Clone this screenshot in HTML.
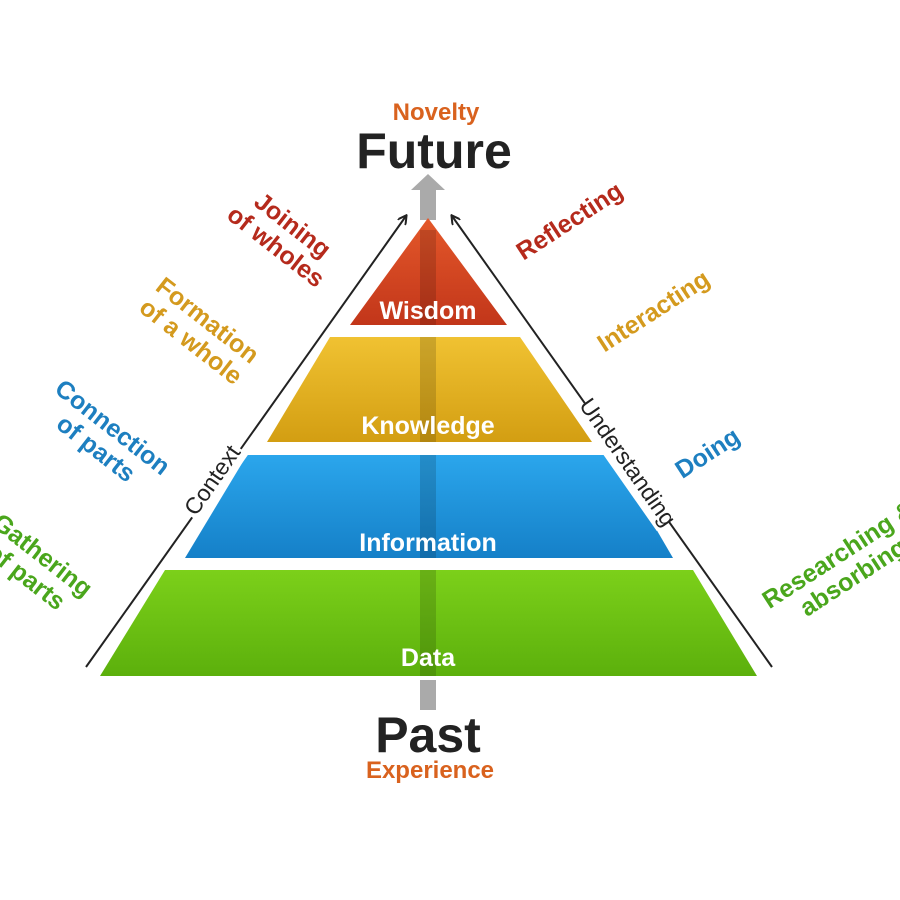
<!DOCTYPE html>
<html><head><meta charset="utf-8"><style>
html,body{margin:0;padding:0;background:#fff;}
svg{display:block;}
text{font-family:"Liberation Sans",sans-serif;font-weight:bold;}
</style></head><body>
<svg width="900" height="900" viewBox="0 0 900 900" xmlns="http://www.w3.org/2000/svg">
<defs>
<linearGradient id="gr" x1="0" y1="0" x2="0" y2="1"><stop offset="0" stop-color="#e4582a"/><stop offset="1" stop-color="#c2361a"/></linearGradient>
<linearGradient id="gy" x1="0" y1="0" x2="0" y2="1"><stop offset="0" stop-color="#f0c232"/><stop offset="1" stop-color="#d39e12"/></linearGradient>
<linearGradient id="gb" x1="0" y1="0" x2="0" y2="1"><stop offset="0" stop-color="#2ba6ec"/><stop offset="1" stop-color="#1580c8"/></linearGradient>
<linearGradient id="gg" x1="0" y1="0" x2="0" y2="1"><stop offset="0" stop-color="#7cd01a"/><stop offset="1" stop-color="#5cb00c"/></linearGradient>
<marker id="ah" markerWidth="10" markerHeight="10" refX="8" refY="5" orient="auto" markerUnits="userSpaceOnUse"><path d="M0,0 L9,5 L0,10" fill="none" stroke="#222" stroke-width="2"/></marker>
</defs>
<rect x="420" y="188" width="16" height="32" fill="#aaa"/>
<polygon points="428,174 445,190 411,190" fill="#aaa"/>
<polygon points="428,218 507,325 350,325" fill="url(#gr)"/>
<polygon points="330,337 520,337 592,442 267,442" fill="url(#gy)"/>
<polygon points="247,455 613,455 673,558 185,558" fill="url(#gb)"/>
<polygon points="165,570 693,570 757,676 100,676" fill="url(#gg)"/>
<rect x="420" y="230" width="16" height="95" fill="#000" opacity="0.15"/>
<rect x="420" y="337" width="16" height="105" fill="#000" opacity="0.15"/>
<rect x="420" y="455" width="16" height="103" fill="#000" opacity="0.15"/>
<rect x="420" y="570" width="16" height="106" fill="#000" opacity="0.15"/>
<rect x="420" y="680" width="16" height="30" fill="#aaa"/>
<line x1="86" y1="667" x2="406" y2="216" stroke="#222" stroke-width="2" marker-end="url(#ah)"/>
<line x1="772" y1="667" x2="452" y2="216" stroke="#222" stroke-width="2" marker-end="url(#ah)"/>
<g fill="#fff" font-size="25" text-anchor="middle">
<text x="428" y="319">Wisdom</text>
<text x="428" y="434">Knowledge</text>
<text x="428" y="551">Information</text>
<text x="428" y="666">Data</text>
</g>
<rect x="170" y="465" width="84" height="30" fill="#fff" transform="rotate(-55 212 480)"/>
<text x="212" y="488" font-size="23" font-weight="normal" style="font-weight:normal" fill="#222" text-anchor="middle" transform="rotate(-55 212 480)">Context</text>
<rect x="555" y="448" width="146" height="30" fill="#fff" transform="rotate(55 628 462)"/>
<text x="628" y="470" font-size="23" style="font-weight:normal" fill="#222" text-anchor="middle" transform="rotate(55 628 462)">Understanding</text>
<text x="436" y="120" font-size="24" fill="#d9621e" text-anchor="middle">Novelty</text>
<text x="434" y="168" font-size="50" fill="#222" text-anchor="middle">Future</text>
<text x="428" y="752" font-size="50" fill="#222" text-anchor="middle">Past</text>
<text x="430" y="778" font-size="24" fill="#d9621e" text-anchor="middle">Experience</text>
<g font-size="25" text-anchor="middle">
<g transform="translate(285,235) rotate(38)" fill="#b52a1c"><text y="-4">Joining</text><text y="23">of wholes</text></g>
<g transform="translate(200,330) rotate(38)" fill="#d49a1e"><text y="-4">Formation</text><text y="23">of a whole</text></g>
<g transform="translate(105,437) rotate(38)" fill="#1d7fc0"><text y="-4">Connection</text><text y="23">of parts</text></g>
<g transform="translate(35,565) rotate(38)" fill="#4aa61c"><text y="-4">Gathering</text><text y="23">of parts</text></g>
</g>
<g font-size="25" text-anchor="middle">
<text transform="translate(574,228) rotate(-33)" fill="#b52a1c">Reflecting</text>
<text transform="translate(658,318) rotate(-33)" fill="#d49a1e">Interacting</text>
<text transform="translate(712,460) rotate(-33)" fill="#1d7fc0">Doing</text>
<g transform="translate(845,565) rotate(-33)" fill="#4aa61c"><text y="-4">Researching &amp;</text><text y="23">absorbing</text></g>
</g>
</svg>
</body></html>
